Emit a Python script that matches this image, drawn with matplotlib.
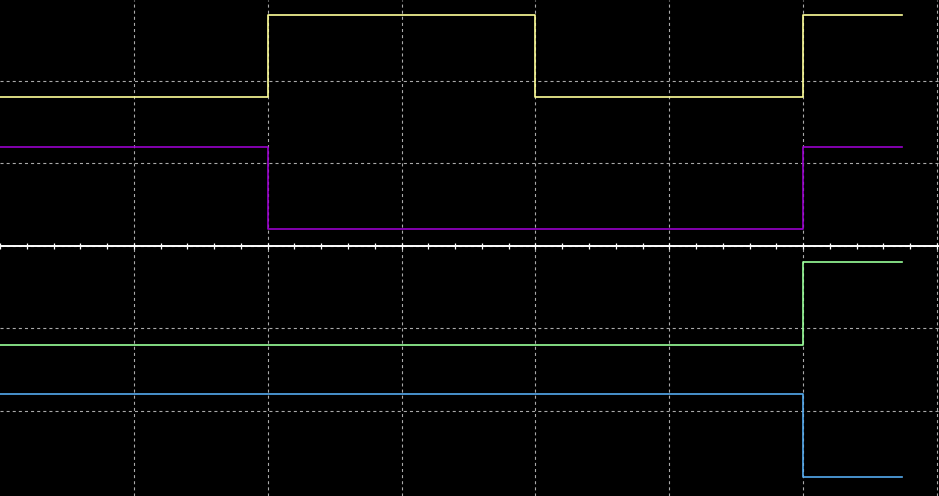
import matplotlib
matplotlib.use("Agg")
import matplotlib.pyplot as plt
from matplotlib.ticker import MultipleLocator, FixedLocator, NullFormatter

# Time (divisions) at which each segment starts; last value is the trace end
times = [0, 2, 4, 6, 6.74]
# Logic level of each channel over the segments (last repeated for step end)
ch1_bits = [0, 1, 0, 1, 1]
ch2_bits = [1, 0, 0, 1, 1]
ch3_bits = [0, 0, 0, 1, 1]
ch4_bits = [1, 1, 1, 0, 0]
# Vertical offset (divisions) of each channel's low level
offsets = [1.8, 0.2, -1.2, -2.8]
amplitude = 1.0
colors = ["#ffff99", "#9900cc", "#99ff99", "#55aaee"]
# Grid divisions
x_grid = [1, 2, 3, 4, 5, 6, 7]
y_grid = [-2, -1, 0, 1, 2]

plt.rcParams["lines.scale_dashes"] = False

fig = plt.figure(figsize=(9.39, 4.96), dpi=100, facecolor="black")
ax = fig.add_axes([0, 0, 1, 1], facecolor="black")

for bits, off, col in zip([ch1_bits, ch2_bits, ch3_bits, ch4_bits], offsets, colors):
    vals = [off + amplitude * b for b in bits]
    ax.step(times, vals, where="post", color=col, lw=1.2, zorder=3)

ax.set_xlim(0, 7.015)
ax.set_ylim(-3.03, 2.98)

ax.xaxis.set_major_locator(FixedLocator(x_grid))
ax.xaxis.set_minor_locator(MultipleLocator(0.2))
ax.yaxis.set_major_locator(FixedLocator(y_grid))
ax.xaxis.set_major_formatter(NullFormatter())
ax.yaxis.set_major_formatter(NullFormatter())

ax.grid(True, which="major", color="#aaaaaa", lw=0.8, dashes=(2.2, 2.2))

for s in ["top", "right", "left"]:
    ax.spines[s].set_visible(False)
ax.spines["bottom"].set_position(("data", 0))
ax.spines["bottom"].set_color("white")
ax.spines["bottom"].set_linewidth(1.4)
ax.spines["bottom"].set_zorder(4)

ax.tick_params(axis="x", which="both", direction="inout", length=4.5, width=0.9, color="white")
ax.tick_params(axis="y", which="both", length=0)

fig.savefig("out.png", dpi=100, facecolor="black")
